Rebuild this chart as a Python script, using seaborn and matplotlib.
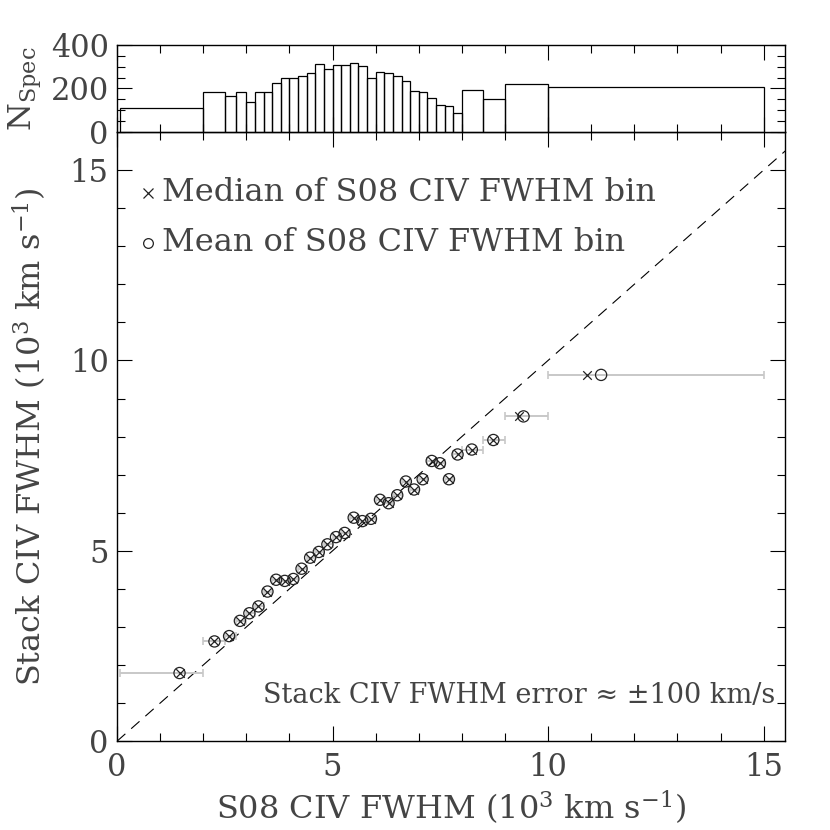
import numpy as np
import pandas as pd
import matplotlib
matplotlib.use("Agg")
import matplotlib.pyplot as plt
import seaborn as sns
from matplotlib.ticker import MultipleLocator

# ---------------- data ----------------
hist_edges = [0.07, 2.0, 2.5, 2.75, 3.0, 3.2, 3.4, 3.6, 3.8, 4.0, 4.2, 4.4, 4.6, 4.8,
              5.0, 5.2, 5.4, 5.6, 5.8, 6.0, 6.2, 6.4, 6.6, 6.8, 7.0, 7.2, 7.4, 7.6,
              7.8, 8.0, 8.5, 9.0, 10.0, 15.0]
hist_counts = [112, 185, 166, 182, 138, 182, 182, 223, 246, 246, 255, 272, 312, 288,
               306, 306, 318, 302, 249, 275, 269, 255, 235, 188, 182, 157, 126, 117,
               86, 191, 152, 222, 208]
median_fwhm = [1.45, 2.26, 2.60, 2.85, 3.07, 3.28, 3.49, 3.69, 3.89, 4.09, 4.28, 4.48,
               4.68, 4.88, 5.08, 5.28, 5.49, 5.69, 5.89, 6.10, 6.30, 6.50, 6.70, 6.89,
               7.09, 7.30, 7.49, 7.70, 7.90, 8.23, 8.73, 9.33, 10.90]
mean_fwhm = [1.45, 2.26, 2.60, 2.85, 3.07, 3.28, 3.49, 3.69, 3.89, 4.09, 4.28, 4.48,
             4.68, 4.88, 5.08, 5.28, 5.49, 5.69, 5.89, 6.10, 6.30, 6.50, 6.70, 6.89,
             7.09, 7.30, 7.49, 7.70, 7.90, 8.23, 8.73, 9.43, 11.23]
stack_fwhm = [1.79, 2.62, 2.76, 3.16, 3.36, 3.54, 3.93, 4.24, 4.21, 4.26, 4.53, 4.82,
              4.97, 5.17, 5.36, 5.47, 5.87, 5.78, 5.84, 6.34, 6.25, 6.46, 6.82, 6.61,
              6.88, 7.36, 7.30, 6.88, 7.53, 7.66, 7.91, 8.53, 9.62]

# ---------------- style ----------------
sns.set_theme(style="ticks")
plt.rcParams["font.family"] = ["DejaVu Serif"]
plt.rcParams["mathtext.fontset"] = "dejavuserif"
TXT = "#444444"
FS = 22

fig = plt.figure(figsize=(8.3, 8.3), dpi=100)
ax = fig.add_axes([0.141, 0.107, 0.805, 0.734])
axh = fig.add_axes([0.141, 0.841, 0.805, 0.105], sharex=ax)

edges = np.array(hist_edges)
centers = 0.5 * (edges[:-1] + edges[1:])
hdf = pd.DataFrame({"center": centers, "count": hist_counts})
sns.histplot(data=hdf, x="center", weights="count", bins=hist_edges, fill=False,
             element="bars", color="black", linewidth=0.9, ax=axh)

df = pd.DataFrame({"median": median_fwhm, "mean": mean_fwhm, "stack": stack_fwhm,
                   "lo": hist_edges[:-1], "hi": hist_edges[1:]})

# bin-range error bars
ax.errorbar(df["median"], df["stack"],
            xerr=[df["median"] - df["lo"], df["hi"] - df["median"]],
            fmt="none", ecolor="#c8c8c8", elinewidth=1.4, capsize=3, capthick=1.2, zorder=2)

# 1:1 line
ax.axline((0, 0), slope=1, color="black", lw=0.8, dashes=(10, 7), zorder=1)

sns.scatterplot(data=df, x="median", y="stack", marker="x", color="#222222", s=38,
                linewidth=0.9, ax=ax, zorder=3)
sns.scatterplot(data=df, x="mean", y="stack", marker="o", facecolor="none",
                edgecolor="#222222", s=65, linewidth=0.9, ax=ax, zorder=3)

ax.set_xlim(0, 15.5)
ax.set_ylim(0, 16)
axh.set_ylim(0, 400)

for a in (ax, axh):
    a.xaxis.set_major_locator(MultipleLocator(5))
    a.xaxis.set_minor_locator(MultipleLocator(1))
    a.tick_params(which="both", direction="in", top=True, right=True,
                  colors="black", labelcolor=TXT, labelsize=FS, width=0.8)
    a.tick_params(which="major", length=11)
    a.tick_params(which="minor", length=5.5)
    for s in a.spines.values():
        s.set_linewidth(1.0)
        s.set_color("black")
ax.yaxis.set_major_locator(MultipleLocator(5))
ax.yaxis.set_minor_locator(MultipleLocator(1))
axh.yaxis.set_major_locator(MultipleLocator(200))
axh.yaxis.set_minor_locator(MultipleLocator(50))
axh.tick_params(axis="x", labelbottom=False)
ax.tick_params(axis="x", pad=8)
ax.tick_params(axis="y", pad=6)
axh.tick_params(axis="y", pad=6)

ax.set_xlabel(r"S08 CIV FWHM (10$^3$ km s$^{-1}$)", fontsize=FS + 1, color=TXT, labelpad=4)
ax.set_ylabel(r"Stack CIV FWHM (10$^3$ km s$^{-1}$)", fontsize=FS + 1, color=TXT)
ax.yaxis.set_label_coords(-0.102, 0.5)
axh.set_xlabel("")
axh.set_ylabel(r"N$_{\mathrm{Spec}}$", fontsize=FS + 1, color=TXT)
axh.yaxis.set_label_coords(-0.11, 0.5)

# legend-like annotations
ax.plot([0.047], [0.90], marker="x", ms=7, mew=0.9, color="#222222",
        transform=ax.transAxes, clip_on=False)
ax.text(0.068, 0.90, "Median of S08 CIV FWHM bin", transform=ax.transAxes,
        fontsize=FS + 1, color=TXT, va="center", ha="left")
ax.plot([0.047], [0.818], marker="o", ms=7, mew=0.9, mfc="none", color="#222222",
        transform=ax.transAxes, clip_on=False)
ax.text(0.068, 0.818, "Mean of S08 CIV FWHM bin", transform=ax.transAxes,
        fontsize=FS + 1, color=TXT, va="center", ha="left")
ax.text(0.985, 0.075, "Stack CIV FWHM error ≈ ±100 km/s", transform=ax.transAxes,
        fontsize=19.5, color=TXT, va="center", ha="right")

fig.savefig("out.png", dpi=100)
